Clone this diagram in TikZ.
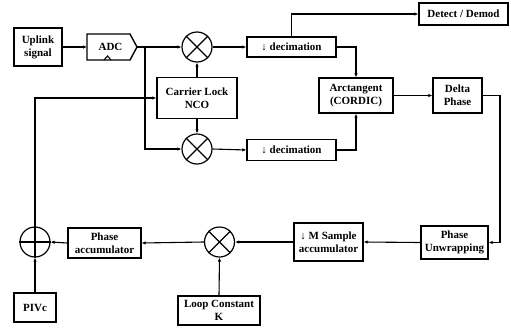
\documentclass[tikz,border=0pt]{standalone}
\usepackage{fontspec}
\setmainfont{Liberation Serif}
\usetikzlibrary{positioning,shapes,arrows.meta}

\tikzset{
  blk/.style={draw,line width=1.4pt,inner sep=0pt,align=center,
    font=\bfseries\fontsize{11}{13}\selectfont},
  mix/.style={draw,circle,line width=1.2pt,minimum size=30pt,inner sep=0pt},
  sig/.style={line width=1.1pt,-{Latex[length=4pt,width=3.5pt]}},
  wire/.style={line width=1.1pt},
}

\begin{document}
\begin{tikzpicture}[x=1pt,y=-1pt]
  \useasboundingbox (0,0) rectangle (511,327);

  % blocks
  \node[blk,minimum width=48pt,minimum height=38pt] (uplink) at (38,47) {Uplink\\signal};
  \node[blk,minimum width=80pt,minimum height=41pt] (nco) at (197,98) {Carrier Lock\\NCO};
  \node[blk,minimum width=89pt,minimum height=20pt] (decA) at (291.5,47) {↓ decimation};
  \node[blk,minimum width=89pt,minimum height=21pt] (decB) at (291.5,150) {↓ decimation};
  \node[blk,minimum width=89pt,minimum height=22pt] (detect) at (463.5,14) {Detect / Demod};
  \node[blk,minimum width=74pt,minimum height=35pt] (atan) at (356,95.5) {Arctangent\\(CORDIC)};
  \node[blk,minimum width=49pt,minimum height=35pt] (delta) at (457.5,95.5) {Delta\\Phase};
  \node[blk,minimum width=67pt,minimum height=33pt] (unwrap) at (454.5,242.5) {Phase\\Unwrapping};
  \node[blk,minimum width=69pt,minimum height=38pt] (msamp) at (328.5,242) {↓ M Sample\\accumulator};
  \node[blk,minimum width=82pt,minimum height=29pt] (loopk) at (219,310.5) {Loop Constant\\K};
  \node[blk,minimum width=73pt,minimum height=30pt] (phacc) at (104.5,243) {Phase\\accumulator};
  \node[blk,minimum width=42pt,minimum height=29pt] (pivc) at (35,307.5) {PIVc};

  % ADC
  \draw[line width=1.4pt] (87,34) -- (130,34) -- (137,47) -- (130,60) -- (87,60) -- cycle;
  \draw[line width=1.1pt] (104,60) -- (107.5,56) -- (111,60);
  \node[font=\bfseries\fontsize{11}{13}\selectfont,inner sep=0pt] (adc) at (110.5,47) {ADC};
  \coordinate (adcout) at (137,47);
  \coordinate (split) at (145,47);

  % mixers and adder
  \node[mix] (mixA) at (197,47) {};
  \node[mix] (mixB) at (197,149) {};
  \node[mix] (mixC) at (219.5,242) {};
  \node[mix] (add) at (35,242) {};
  \foreach \m in {mixA,mixB,mixC}
    \draw[line width=1.2pt] (\m.45) -- (\m.225) (\m.135) -- (\m.315);
  \draw[line width=1.2pt] (add.north) -- (add.south) (add.west) -- (add.east);

  % connections
  \draw[sig] (uplink.east) -- (87,47);
  \draw[sig] (adcout) -- (mixA.west);
  \draw[sig] (split) |- (mixB.west);
  \draw[sig] (nco.north) -- (mixA.south);
  \draw[sig] (nco.south) -- (mixB.north);
  \draw[sig] (mixA.east) -- (decA.west);
  \draw[sig] (mixB.east) -- (decB.west);
  \draw[sig] (decA.north) |- (detect.west);
  \draw[sig] (decA.east) -| (atan.north);
  \draw[sig] (decB.east) -| (atan.south);
  \draw[sig] (atan.east) -- (delta.west);
  \draw[sig] (delta.east) -- (500,95.5) |- (unwrap.east);
  \draw[sig] (unwrap.west) -- (msamp.west -| msamp.east);
  \draw[sig] (msamp.west) -- (mixC.east);
  \draw[sig] (loopk.north) -- (mixC.south);
  \draw[sig] (mixC.west) -- (phacc.east);
  \draw[sig] (phacc.west) -- (add.east);
  \draw[sig] (pivc.north) -- (add.south);
  \draw[sig] (add.north) |- (nco.west);
\end{tikzpicture}
\end{document}
